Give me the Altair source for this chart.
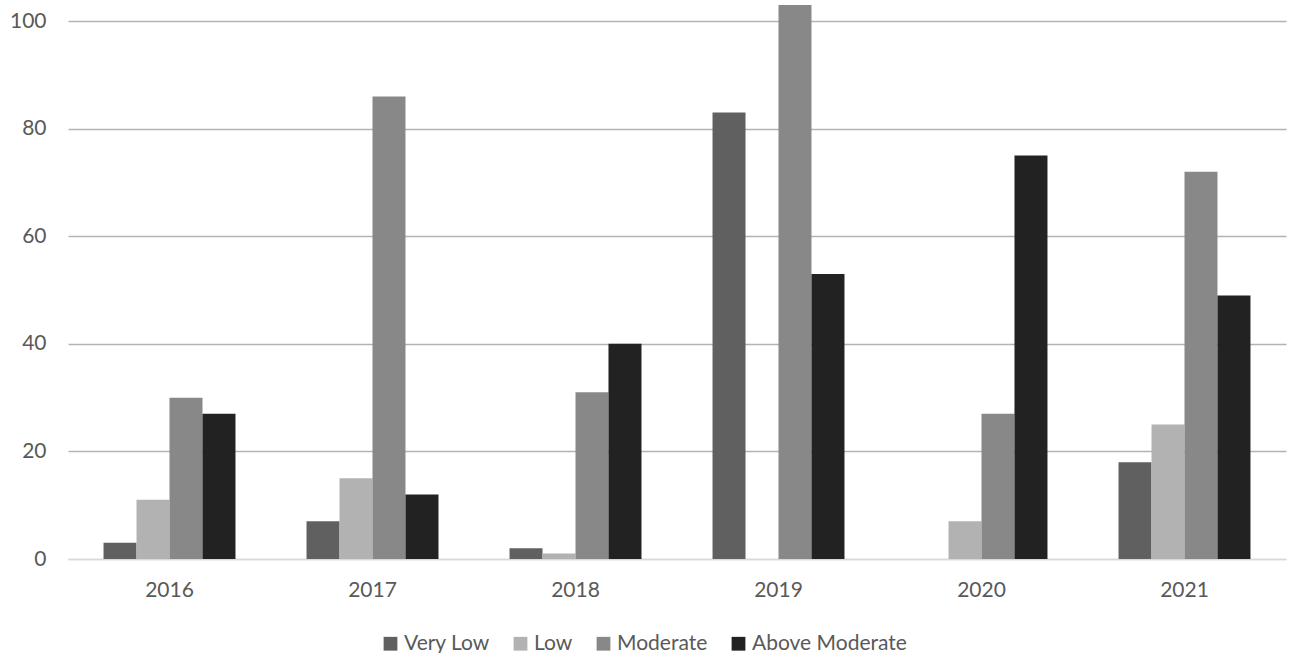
import altair as alt
import pandas as pd

years = ["2016", "2017", "2018", "2019", "2020", "2021"]
series = ["Very Low", "Low", "Moderate", "Above Moderate"]
very_low = [3, 7, 2, 83, 0, 18]
low = [11, 15, 1, 0, 7, 25]
moderate = [30, 86, 31, 103, 27, 72]
above_moderate = [27, 12, 40, 53, 75, 49]
colors = ["#606060", "#b2b2b2", "#888888", "#222222"]
y_ticks = [0, 20, 40, 60, 80, 100]

rows = []
for s, vals in zip(series, [very_low, low, moderate, above_moderate]):
    for y, v in zip(years, vals):
        rows.append({"year": y, "series": s, "value": v})
df = pd.DataFrame(rows)

FONT = "Lato"
FS = 21

chart = alt.Chart(df).mark_bar().encode(
    x=alt.X("year:N", sort=years, title=None,
            scale=alt.Scale(paddingInner=0.35, paddingOuter=0.175),
            axis=alt.Axis(labelAngle=0, ticks=False, domain=True, domainColor="#d9d9d9",
                          domainWidth=1.5, labelPadding=20, labelFontSize=FS,
                          labelColor="#595959", labelFont=FONT)),
    xOffset=alt.XOffset("series:N", sort=series),
    y=alt.Y("value:Q", title=None,
            scale=alt.Scale(domain=[0, 103], nice=False, zero=True),
            axis=alt.Axis(values=y_ticks, ticks=False, domain=False, labelPadding=22,
                          labelFontSize=FS, labelColor="#595959", labelFont=FONT,
                          gridColor=alt.condition(alt.datum.value == 0, alt.value("#d9d9d9"), alt.value("#b3b3b3")),
                          gridWidth=1.5)),
    color=alt.Color("series:N", sort=series,
                    scale=alt.Scale(domain=series, range=colors),
                    legend=alt.Legend(title=None, orient="none", direction="horizontal",
                                      legendX=312, legendY=628, symbolType="square",
                                      symbolSize=190, symbolStrokeWidth=0, symbolOpacity=1,
                                      labelFontSize=FS, labelColor="#595959", labelFont=FONT,
                                      columnPadding=20, labelOffset=3)),
).properties(
    width=1218, height=554,
    autosize=alt.AutoSizeParams(type="none"),
    padding={"left": 68, "top": 5, "right": 3, "bottom": 94},
).configure_view(stroke=None)

chart.save("out.html", embed_options={"renderer": "svg", "actions": False})
